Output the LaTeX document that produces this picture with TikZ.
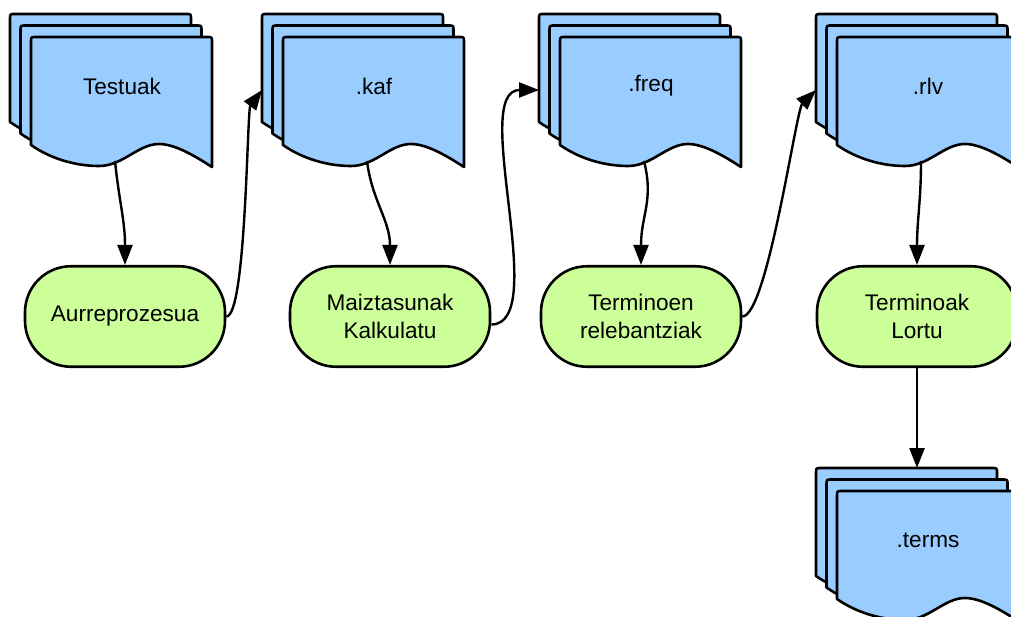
\documentclass[tikz,border=0pt]{standalone}
\usepackage{fontspec}
\setmainfont{Liberation Sans}
\usetikzlibrary{arrows.meta}
\definecolor{docblue}{HTML}{99CCFF}
\definecolor{procgreen}{HTML}{CCFF99}

\tikzset{
  docpage/.style={draw=black, fill=docblue, line width=2.6pt, line join=round},
  doctext/.style={font=\fontsize{22.6}{28}\selectfont, align=center, inner sep=0pt},
  proc/.style={rectangle, rounded corners=46pt, draw=black, fill=procgreen,
    line width=2.6pt, minimum width=200pt, minimum height=100.5pt,
    align=center, inner sep=0pt, font=\fontsize{22.6}{28}\selectfont},
  conn/.style={draw=black, line width=2.4pt, -{Triangle[length=20pt,width=15pt]}},
}

% one page of a document stack, top-left corner at (#1,#2), wavy bottom edge
\newcommand\docpage[2]{%
  \filldraw[docpage] (#1,#2+108) -- (#1,#2+5) .. controls (#1,#2) .. (#1+5,#2)
    -- (#1+176,#2) .. controls (#1+181,#2) .. (#1+181,#2+5)
    -- (#1+181,#2+130)
    .. controls (#1+167,#2+121) and (#1+145,#2+107) .. (#1+128,#2+107)
    .. controls (#1+107,#2+107) and (#1+92,#2+129) .. (#1+68,#2+129)
    .. controls (#1+45,#2+129) and (#1+20,#2+122) .. (#1,#2+108) -- cycle;}

% stack of three pages: name, x, y of the back page, label
\newcommand\docstack[4]{%
  \docpage{#2}{#3}
  \docpage{#2+10.5}{#3+11.5}
  \docpage{#2+21}{#3+23}
  \node[doctext] (#1) at (#2+112,#3+72) {#4};
  \coordinate (#1-in) at (#2,#3+76);
  \coordinate (#1-out) at (#2+105,#3+147);
  \coordinate (#1-top) at (#2+101,#3);
}

\begin{document}
\begin{tikzpicture}[x=1pt,y=-1pt]
  \useasboundingbox (0,0) rectangle (1011,617);
  \clip (0,0) rectangle (1011,617);

  % document stacks
  \docstack{testu}{10}{14}{Testuak}
  \docstack{kaf}{262}{14}{.kaf}
  \docstack{freq}{539}{14}{.freq}
  \docstack{rlv}{816}{14}{.rlv}
  \docstack{terms}{816}{468}{.terms}

  % processes
  \node[proc] (aurre) at (125,316.5) {Aurreprozesua};
  \node[proc] (maiz)  at (390,316.5) {Maiztasunak\\Kalkulatu};
  \node[proc] (relev) at (641,316.5) {Terminoen\\relebantziak};
  \node[proc] (lortu) at (917,316.5) {Terminoak\\Lortu};

  % documents into processes
  \draw[conn] (testu-out) .. controls +(4,40) and +(0,-45) .. (aurre.north);
  \draw[conn] (kaf-out) .. controls +(5,40) and +(0,-45) .. (maiz.north);
  \draw[conn] (freq-out) .. controls +(10,40) and +(0,-50) .. (relev.north);
  \draw[conn] (rlv-out) .. controls +(0,40) and +(0,-45) .. (lortu.north);

  % processes into documents
  \draw[conn] (aurre.east) .. controls +(20,0) and +(-15,20) .. (kaf-in);
  \draw[conn] ([yshift=-8pt]maiz.east) .. controls +(60,0) and +(-70,0) .. (freq-in);
  \draw[conn] (relev.east) .. controls +(25,0) and +(-20,20) .. (rlv-in);
  \draw[conn] (lortu.south) -- (terms-top);
\end{tikzpicture}
\end{document}
